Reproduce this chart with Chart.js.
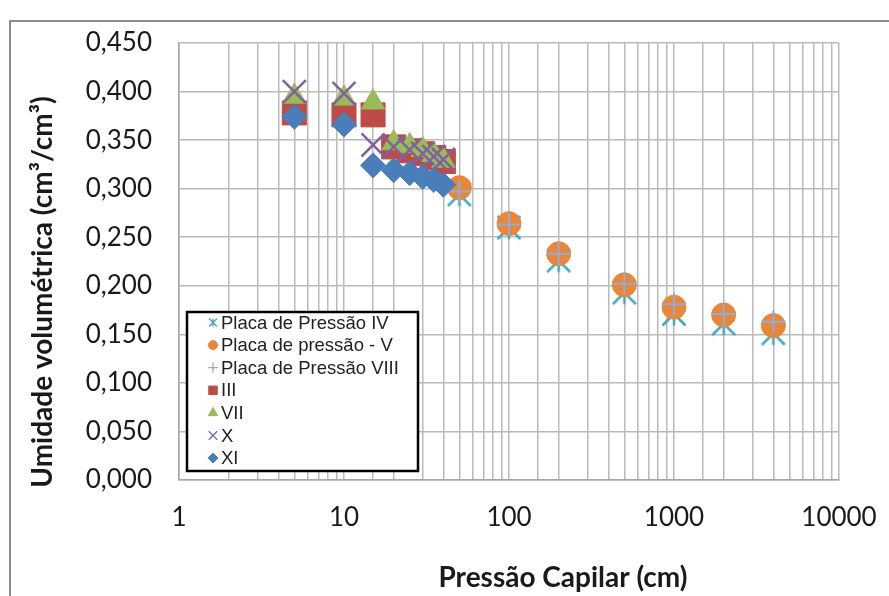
<!DOCTYPE html>
<html>
<head>
<meta charset="utf-8">
<script src="https://cdn.jsdelivr.net/npm/chart.js@4/dist/chart.umd.min.js"></script>
<style>
    html, body { margin: 0; padding: 0; background: #fff; }
    #wrap { width: 889px; height: 596px; position: relative; }
</style>
</head>
<body>
<div id="wrap"><canvas id="grafica" width="889" height="596"></canvas></div>
<script>
// =========================
// DADOS
// =========================
const pressaoBaixa = [5, 10, 15, 20, 25, 30, 35, 40];
const pressaoPlaca = [50, 100, 200, 500, 1000, 2000, 4000];

const placaIV = [0.294, 0.260, 0.226, 0.193, 0.171, 0.161, 0.151];
const placaV = [0.301, 0.264, 0.233, 0.201, 0.178, 0.170, 0.159];
const placaVIII = [0.297, 0.263, 0.233, 0.202, 0.181, 0.171, 0.163];

const serieIII = [0.378, 0.376, 0.376, 0.343, 0.339, 0.336, 0.332, 0.328];
const serieVII = [0.395, 0.393, 0.389, 0.347, 0.344, 0.340, 0.335, 0.329];
const serieX = [0.400, 0.398, 0.345, 0.343, 0.340, 0.336, 0.333, 0.330];
const serieXI = [0.374, 0.366, 0.324, 0.319, 0.316, 0.312, 0.309, 0.304];

const nomes = ["Placa de Pressão IV", "Placa de pressão - V", "Placa de Pressão VIII", "III", "VII", "X", "XI"];
const rotulosX = ["1", "10", "100", "1000", "10000"];

const tituloX = "Pressão Capilar (cm)";
const tituloY = "Umidade volumétrica (cm³/cm³)";

// =========================
// MARCADOR ASTERISCO (Excel)
// =========================
function desenharAsterisco(ctx, x, y, s, cor, lw) {
    ctx.save();
    ctx.strokeStyle = cor;
    ctx.lineWidth = lw;
    ctx.beginPath();
    ctx.moveTo(x - s, y - s); ctx.lineTo(x + s, y + s);
    ctx.moveTo(x - s, y + s); ctx.lineTo(x + s, y - s);
    ctx.moveTo(x, y - s); ctx.lineTo(x, y + s);
    ctx.stroke();
    ctx.restore();
}

const asterisco = document.createElement("canvas");
asterisco.width = 28;
asterisco.height = 28;
desenharAsterisco(asterisco.getContext("2d"), 14, 14, 11.5, "#43a7c2", 2.5);

const pontos = (xs, ys) => xs.map((x, i) => ({ x, y: ys[i] }));

// estilo de cada série (gráfico e legenda)
const estilos = [
    { cor: "#43a7c2", estilo: asterisco, raio: 12, borda: 2.5, leg: "ast" },
    { cor: "#e8873a", estilo: "circle", raio: 12, borda: 1, leg: "circle" },
    { cor: "#93abd6", estilo: "cross", raio: 11.5, borda: 2, leg: "cross" },
    { cor: "#be4b48", estilo: "rect", raio: 17, borda: 1, leg: "rect" },
    { cor: "#9bbb59", estilo: "triangle", raio: 13.5, borda: 1, leg: "triangle" },
    { cor: "#7f63a1", estilo: "crossRot", raio: 16.3, borda: 2.5, leg: "crossRot" },
    { cor: "#4a7ebb", estilo: "rectRot", raio: 12.5, borda: 1, leg: "rectRot" }
];

const valores = [
    pontos(pressaoPlaca, placaIV),
    pontos(pressaoPlaca, placaV),
    pontos(pressaoPlaca, placaVIII),
    pontos(pressaoBaixa, serieIII),
    pontos(pressaoBaixa, serieVII),
    pontos(pressaoBaixa, serieX),
    pontos(pressaoBaixa, serieXI)
];

const datasets = valores.map((d, i) => ({
    label: nomes[i],
    data: d,
    pointStyle: estilos[i].estilo,
    pointRadius: estilos[i].raio,
    pointBorderWidth: estilos[i].borda,
    backgroundColor: estilos[i].cor,
    borderColor: estilos[i].cor,
    showLine: false,
    order: 7 - i   // última série desenhada por cima, como no Excel
}));

// =========================
// PLUGIN: moldura, títulos e legenda
// =========================
const extras = {
    id: "extras",
    afterDraw(chart) {
        const ctx = chart.ctx;
        ctx.save();

        // moldura externa do gráfico
        ctx.strokeStyle = "#8c8c8c";
        ctx.lineWidth = 2;
        ctx.beginPath();
        ctx.moveTo(10, 600);
        ctx.lineTo(10, 21);
        ctx.lineTo(900, 21);
        ctx.stroke();

        // títulos dos eixos
        ctx.fillStyle = "#1a1a1a";
        ctx.font = "bold 28px Lato";
        ctx.textAlign = "center";
        ctx.textBaseline = "middle";
        ctx.fillText(tituloX, 563, 578);

        ctx.save();
        ctx.translate(43, 292);
        ctx.rotate(-Math.PI / 2);
        ctx.fillText(tituloY, 0, 0);
        ctx.restore();

        // legenda
        ctx.fillStyle = "#fff";
        ctx.fillRect(187, 312, 231, 159);
        ctx.strokeStyle = "#000";
        ctx.lineWidth = 2.5;
        ctx.strokeRect(187, 312, 231, 159);

        ctx.font = "18.5px 'Liberation Sans'";
        ctx.textAlign = "left";
        nomes.forEach((nome, i) => {
            const y = 322.5 + i * 22.6;
            const e = estilos[i];
            ctx.fillStyle = e.cor;
            ctx.strokeStyle = e.cor;
            if (e.leg === "ast") {
                desenharAsterisco(ctx, 213, y, 4, e.cor, 1.3);
            } else {
                const r = { circle: 4.5, cross: 5, rect: 6, triangle: 5.5, crossRot: 6, rectRot: 5 }[e.leg];
                ctx.lineWidth = (e.leg === "cross" || e.leg === "crossRot") ? 1.3 : 1;
                Chart.helpers.drawPoint(ctx, { pointStyle: e.leg, radius: r, rotation: 0, borderWidth: ctx.lineWidth }, 213, y);
            }
            ctx.fillStyle = "#222";
            ctx.fillText(nome, 221, y + 1);
        });

        ctx.restore();
    }
};

// =========================
// GRÁFICO
// =========================
const ctx = document.getElementById("grafica").getContext("2d");

const chart = new Chart(ctx, {
    type: "scatter",
    data: { datasets },
    options: {
        responsive: false,
        animation: false,
        layout: { padding: { left: 0, top: 43, right: 50, bottom: 0 } },
        plugins: {
            legend: { display: false },
            tooltip: { enabled: false }
        },
        scales: {
            x: {
                type: "logarithmic",
                min: 1,
                max: 10000,
                afterFit: (s) => { s.height = 116; s.paddingLeft = 0; s.paddingRight = 0; },
                grid: { color: "#bababa", lineWidth: 1.5, drawTicks: false },
                border: { color: "#a6a6a6", width: 1.5 },
                ticks: {
                    autoSkip: false,
                    maxRotation: 0,
                    minRotation: 0,
                    padding: 22,
                    color: "#1a1a1a",
                    font: { family: "Lato", size: 26 },
                    callback: (v) => rotulosX.includes(String(v)) ? String(v) : ""
                }
            },
            y: {
                min: 0,
                max: 0.45,
                afterFit: (s) => { s.width = 179; s.paddingTop = 0; s.paddingBottom = 0; },
                grid: { color: "#bababa", lineWidth: 1.5, drawTicks: false },
                border: { color: "#a6a6a6", width: 1.5 },
                ticks: {
                    stepSize: 0.05,
                    padding: 27,
                    color: "#1a1a1a",
                    font: { family: "Lato", size: 26 },
                    callback: (v) => v.toFixed(3).replace(".", ",")
                }
            }
        }
    },
    plugins: [extras]
});
</script>
</body>
</html>
